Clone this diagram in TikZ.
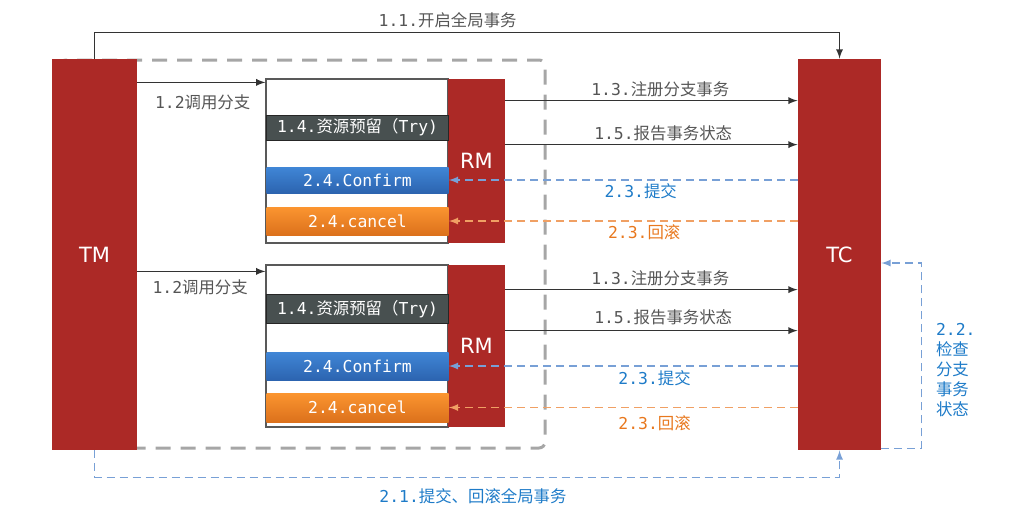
\documentclass[tikz,border=0pt]{standalone}
\usepackage{fontspec}
\setmainfont{DejaVu Sans Mono}
\newfontfamily\zhfont{Noto Sans CJK SC}
\newfontfamily\rolefont{DejaVu Sans}
\usetikzlibrary{positioning}
\usetikzlibrary{arrows}
\definecolor{rolered}{RGB}{172,41,38}
\definecolor{labelgray}{RGB}{85,85,85}
\definecolor{commitblue}{RGB}{30,123,200}
\definecolor{commitline}{RGB}{120,160,214}
\definecolor{rollorange}{RGB}{232,120,30}
\definecolor{rollline}{RGB}{240,160,100}
\definecolor{trygray}{RGB}{72,80,80}
\newcommand{\zh}[1]{{\zhfont #1}}
\tikzset{
    every node/.style={
        inner sep=0pt,
        font=\fontsize{8.2}{10}\selectfont},
    server/.style={
        fill=rolered,
        text=white,
        font=\rolefont\fontsize{10.5}{12}\selectfont},
    branch/.style={
        draw=black!65,
        semithick,
        fill=white,
        minimum width=91pt},
    trybox/.style={
        draw=black!85,
        fill=trygray,
        text=white,
        minimum width=91pt},
    confirmbox/.style={
        top color={rgb,255:red,64;green,134;blue,214},
        bottom color={rgb,255:red,44;green,100;blue,176},
        text=white,
        minimum width=91pt},
    cancelbox/.style={
        top color={rgb,255:red,251;green,149;blue,48},
        bottom color={rgb,255:red,220;green,113;blue,28},
        text=white,
        minimum width=91pt},
    txgroup/.style={
        draw=black!35,
        line width=1.5pt,
        dash pattern=on 7.5pt off 5pt,
        rounded corners=3pt},
    call/.style={
        draw=black!80,
        ->,>=latex,
        line width=0.6pt},
    commit/.style={
        draw=commitline,
        ->,>=latex,
        line width=0.6pt,
        dash pattern=on 4pt off 2.5pt},
    rollback/.style={
        draw=rollline,
        ->,>=latex,
        line width=0.6pt,
        dash pattern=on 4pt off 2.5pt}}

\begin{document}
\begin{tikzpicture}[x=0.5pt,y=-0.5pt]
        \useasboundingbox (0,0) rectangle (1010,505);

        % global transaction scope
        \draw[txgroup] (60,60) rectangle (545,448);

        \node[server,minimum width=42.5pt,minimum height=195.5pt] (tm) at (94.5,254.5) {TM};
        \node[server,minimum width=41.5pt,minimum height=195.5pt] (tc) at (839.5,254.5) {TC};

        % branch 1
        \node[branch,minimum height=82pt] (branch1) at (357,161) {};
        \node[server,minimum width=28.5pt,minimum height=82pt] (rm1) at (476.5,161) {RM};
        \node[trybox,minimum height=12.5pt] (try1) at (357.5,127.5) {1.4.\zh{资源预留（}Try)};
        \node[confirmbox,minimum height=13pt] (confirm1) at (357.5,180) {2.4.Confirm};
        \node[cancelbox,minimum height=14pt] (cancel1) at (357.5,221) {2.4.cancel};

        % branch 2
        \node[branch,minimum height=81pt] (branch2) at (357,346) {};
        \node[server,minimum width=28.5pt,minimum height=81pt] (rm2) at (476.5,346) {RM};
        \node[trybox,minimum height=14.5pt] (try2) at (357.5,309) {1.4.\zh{资源预留（}Try)};
        \node[confirmbox,minimum height=14pt] (confirm2) at (357.5,366) {2.4.Confirm};
        \node[cancelbox,minimum height=14.5pt] (cancel2) at (357.5,407.5) {2.4.cancel};

        \path ([yshift=-2pt]branch1.north west) coordinate (in1);
        \path ([yshift=-3.5pt]branch2.north west) coordinate (in2);

        \draw[call] (tm.north) -- ++(0,-26) -| node[pos=0.237,above=2pt,text=labelgray] {1.1.\zh{开启全局事务}} (tc.north);
        \draw[call] (in1 -| tm.east) -- node[pos=0.51,below=6pt,text=labelgray] {1.2\zh{调用分支}} (in1);
        \draw[call] (in2 -| tm.east) -- node[pos=0.49,below=4pt,text=labelgray] {1.2\zh{调用分支}} (in2);

        \draw[call] ([yshift=-11pt]rm1.north east) -- node[pos=0.53,above=1.5pt,text=labelgray] {1.3.\zh{注册分支事务}} ([yshift=-11pt]rm1.north east -| tc.west);
        \draw[call] ([yshift=-33pt]rm1.north east) -- node[pos=0.54,above=1.5pt,text=labelgray] {1.5.\zh{报告事务状态}} ([yshift=-33pt]rm1.north east -| tc.west);
        \draw[call] ([yshift=-12.5pt]rm2.north east) -- node[pos=0.53,above=1.5pt,text=labelgray] {1.3.\zh{注册分支事务}} ([yshift=-12.5pt]rm2.north east -| tc.west);
        \draw[call] ([yshift=-33pt]rm2.north east) -- node[pos=0.54,above=2.5pt,text=labelgray] {1.5.\zh{报告事务状态}} ([yshift=-33pt]rm2.north east -| tc.west);

        \draw[commit] (confirm1.east -| tc.west) -- node[pos=0.45,below=1.5pt,text=commitblue] {2.3.\zh{提交}} (confirm1.east);
        \draw[rollback] (cancel1.east -| tc.west) -- node[pos=0.44,below=1.5pt,text=rollorange] {2.3.\zh{回滚}} (cancel1.east);
        \draw[commit] (confirm2.east -| tc.west) -- node[pos=0.41,below=2pt,text=commitblue] {2.3.\zh{提交}} (confirm2.east);
        \draw[rollback] (cancel2.east -| tc.west) -- node[pos=0.41,below=4pt,text=rollorange] {2.3.\zh{回滚}} (cancel2.east);

        \draw[commit] (tm.south) -- ++(0,27) -| node[pos=0.254,below=5.5pt,text=commitblue] {2.1.\zh{提交、回滚全局事务}} (tc.south);
        \draw[commit] ([yshift=1pt]tc.south east) -- ++(40,0) |- node[pos=0.21,right=7pt,align=left,text=commitblue] {2.2.\\\zh{检查}\\\zh{分支}\\\zh{事务}\\\zh{状态}} ([yshift=-4.25pt]tc.east);
    \end{tikzpicture}
\end{document}
